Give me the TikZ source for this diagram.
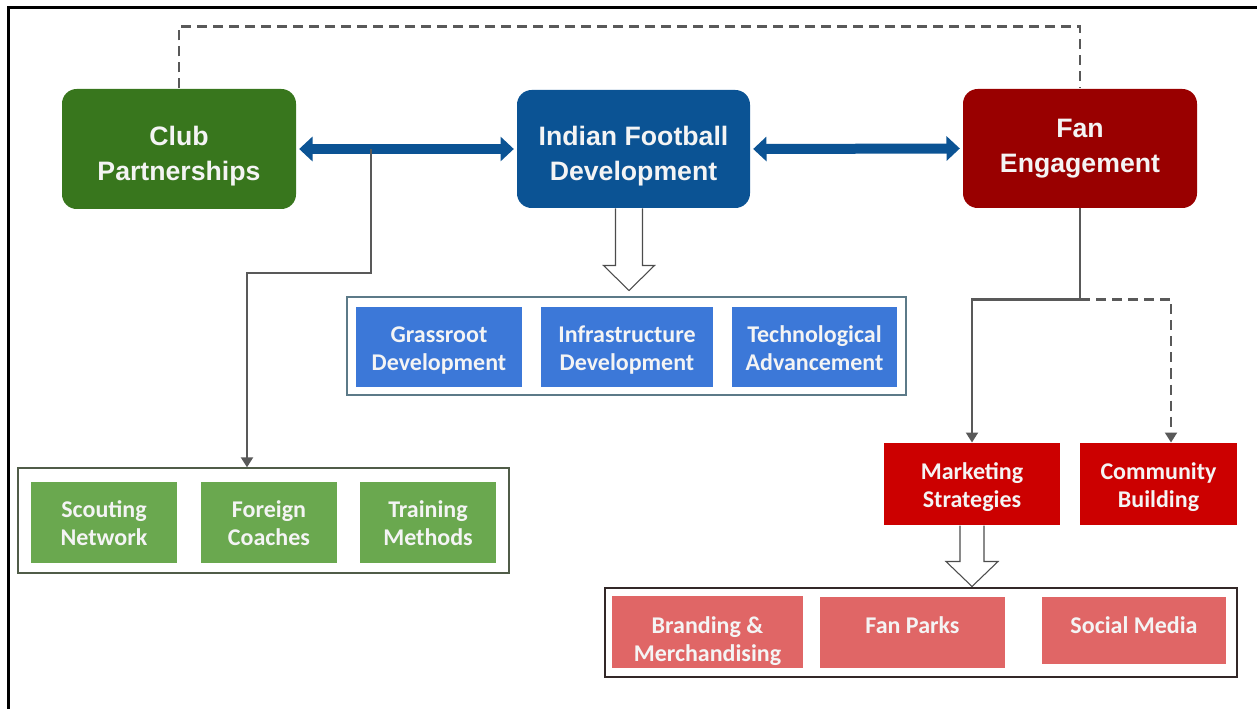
\documentclass[tikz,border=0pt]{standalone}
\usepackage{fontspec}
\setmainfont{Liberation Sans}
\newfontfamily\calibri{Carlito}
\usetikzlibrary{arrows.meta,calc,fit}

\definecolor{clubgreen}{RGB}{56,118,29}
\definecolor{leafgreen}{RGB}{106,168,79}
\definecolor{ifdblue}{RGB}{11,83,148}
\definecolor{tileblue}{RGB}{60,120,216}
\definecolor{fanred}{RGB}{153,0,0}
\definecolor{stratred}{RGB}{204,0,0}
\definecolor{tilered}{RGB}{224,102,102}
\definecolor{linegray}{RGB}{89,89,89}
\definecolor{offwhite}{RGB}{244,244,244}

\tikzset{every picture/.style={line width=0.75pt}}
\tikzset{
  sz/.style 2 args={minimum width=#1*0.75pt, minimum height=#2*0.75pt},
  hub/.style={rounded corners=11pt, inner sep=0pt, text=offwhite, align=center,
    font=\fontsize{20}{26}\selectfont\bfseries},
  sink/.style={execute at begin node={\rule{0pt}{51pt}}},
  tile/.style={inner sep=0pt, text=offwhite, align=center,
    font=\calibri\fontsize{18}{21}\selectfont\bfseries,
    execute at begin node={\rule{0pt}{40pt}},
    execute at end node={\rule[-5pt]{0pt}{5pt}}},
  lift/.style={text height=18pt, text depth=#1},
  group/.style={draw, inner sep=0pt, line width=1pt},
  link/.style={draw=ifdblue, line width=7.5pt, shorten <=2pt, shorten >=2pt,
    {Triangle[length=10pt,width=18pt]}-{Triangle[length=10pt,width=18pt]}},
  wire/.style={draw=linegray, line width=1.6pt},
  feed/.style={wire, -{Triangle[length=7.5pt,width=9pt]}},
  loose/.style={feed, dash pattern=on 7.5pt off 4.5pt},
  hollow/.style={draw=black!70, fill=white, line width=0.8pt, line join=miter},
}

% hollow arrow pointing down: top centre, shaft half width, shaft length, head half width, head length
\newcommand{\hollowdown}[5]{%
  \draw[hollow] ($(#1)+(-#2,0)$) -- ++(0,#3) -- ++(#2-#4,0) -- ++(#4,#5) -- ++(#4,-#5) -- ++(#2-#4,0) -- ++(0,-#3);}

\begin{document}
\begin{tikzpicture}[x=0.75pt,y=0.75pt,yscale=-1,xscale=1]
\useasboundingbox (0,0) rectangle (1257,709);

%Frame
\draw[line width=2pt] (8.7,709) -- (8.7,7.3) -- (1257,7.3);

%Main boxes
\node[hub, sink, fill=clubgreen, sz={234}{120}] (club) at (179,149) {Club\\Partnerships};
\node[hub, sink, fill=ifdblue, sz={233}{118}] (ifd) at (633.5,149) {Indian Football\\Development};
\node[hub, fill=fanred, sz={234}{119}] (fan) at (1080,148.5) {Fan\\Engagement};

%Groups
\node[group, draw={rgb,255:red,80;green,92;blue,72}, fit={(18,468) (509,573)}] (greengrp) {};
\node[group, draw={rgb,255:red,92;green,122;blue,136}, fit={(347,297) (906,395)}] (bluegrp) {};
\node[group, draw={rgb,255:red,50;green,40;blue,40}, fit={(605,588) (1237,677)}] (redgrp) {};

%Club tiles
\node[tile, fill=leafgreen, sz={146}{81}] (scout) at (104,522.5) {Scouting\\Network};
\node[tile, fill=leafgreen, sz={136}{81}] (coach) at (269,522.5) {Foreign\\Coaches};
\node[tile, fill=leafgreen, sz={136}{81}] (train) at (428,522.5) {Training\\Methods};

%Development tiles
\node[tile, fill=tileblue, sz={166}{80}] (grass) at (439,347) {Grassroot\\Development};
\node[tile, fill=tileblue, sz={172}{80}] (infra) at (627,347) {Infrastructure\\Development};
\node[tile, fill=tileblue, sz={165}{80}] (tech) at (814.5,347) {Technological\\Advancement};

%Fan tiles
\node[tile, fill=stratred, sz={176}{82}] (mkt) at (972,484) {Marketing\\Strategies};
\node[tile, fill=stratred, sz={157}{82}] (comm) at (1158.5,484) {Community\\Building};
\node[tile, fill=tilered, sz={191}{70}] (brand) at (707.5,632) {\rule{0pt}{28pt}Branding \&\\Merchandising};
\node[tile, lift=17pt, fill=tilered, sz={185}{71}] (parks) at (912.5,632.5) {Fan Parks};
\node[tile, lift=14pt, fill=tilered, sz={184}{67}] (social) at (1134,630.5) {Social Media};

%Double arrows
\draw[link] (club.east) -- (ifd.west);
\draw[link] (ifd.east) -- (fan.west);

%Dashed top link
\draw[wire, dash pattern=on 7.5pt off 4.5pt] (club.north) -- ++(0,-62) -| (fan.north);

%Club branch
\coordinate (tap) at (371,149);
\coordinate (elbow) at (247,273);
\draw[feed] (tap) |- (elbow) -- (elbow |- greengrp.north);

%Fan branch
\coordinate (fork) at ($(fan.south)+(0,91)$);
\draw[wire] (fan.south) -- (fork);
\draw[feed] (fork) -| (mkt.north);
\draw[loose] (fork) -| ($(comm.north)+(12.5,0)$);

%Hollow arrows
\coordinate (ifdout) at ($(ifd.south)+(-4.5,0)$);
\hollowdown{ifdout}{13.5}{57}{25.5}{25}
\hollowdown{mkt.south}{12}{36}{26}{25}

\end{tikzpicture}
\end{document}
